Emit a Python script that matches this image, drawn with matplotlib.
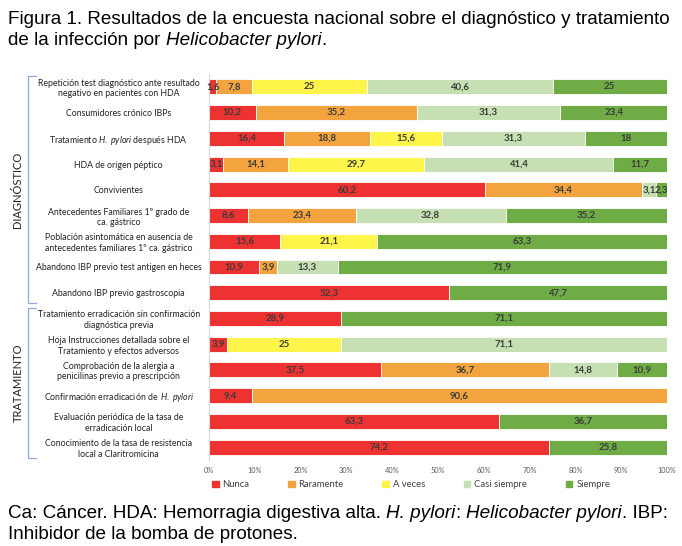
import matplotlib
matplotlib.use("Agg")
import matplotlib.pyplot as plt
import matplotlib.patches as mpatches
import numpy as np

categories = [
    "Repetición test diagnóstico ante resultado\nnegativo en pacientes con HDA",
    "Consumidores crónico IBPs",
    "Tratamiento $\\mathit{H.\\ pylori}$ después HDA",
    "HDA de origen péptico",
    "Convivientes",
    "Antecedentes Familiares 1º grado de\nca. gástrico",
    "Población asintomática en ausencia de\nantecedentes familiares 1º ca. gástrico",
    "Abandono IBP previo test antigen en heces",
    "Abandono IBP previo gastroscopia",
    "Tratamiento erradicación sin confirmación\ndiagnóstica previa",
    "Hoja Instrucciones detallada sobre el\nTratamiento y efectos adversos",
    "Comprobación de la alergia a\npenicilinas previo a prescripción",
    "Confirmación erradicación de $\\,\\mathit{H.\\ pylori}$",
    "Evaluación periódica de la tasa de\nerradicación local",
    "Conocimiento de la tasa de resistencia\nlocal a Claritromicina",
]
series_names = ["Nunca", "Raramente", "A veces", "Casi siempre", "Siempre"]
nunca = [1.6, 10.2, 16.4, 3.1, 60.2, 8.6, 15.6, 10.9, 52.3, 28.9, 3.9, 37.5, 9.4, 63.3, 74.2]
raramente = [7.8, 35.2, 18.8, 14.1, 34.4, 23.4, 0, 3.9, 0, 0, 0, 36.7, 90.6, 0, 0]
a_veces = [25, 0, 15.6, 29.7, 0, 0, 21.1, 0, 0, 0, 25, 0, 0, 0, 0]
casi_siempre = [40.6, 31.3, 31.3, 41.4, 3.1, 32.8, 0, 13.3, 0, 0, 71.1, 14.8, 0, 0, 0]
siempre = [25, 23.4, 18, 11.7, 2.3, 35.2, 63.3, 71.9, 47.7, 71.1, 0, 10.9, 0, 36.7, 25.8]
x_ticks = [0, 10, 20, 30, 40, 50, 60, 70, 80, 90, 100]
groups = [("DIAGNÓSTICO", 0, 8), ("TRATAMIENTO", 9, 14)]

colors = ["#EE3232", "#F4A43E", "#FFF44A", "#C6E0B4", "#6FAC46"]

title_font = "Liberation Sans"
label_font = "Lato"

plt.rcParams["mathtext.fontset"] = "custom"
plt.rcParams["mathtext.rm"] = label_font
plt.rcParams["mathtext.it"] = label_font + ":italic"

W, H = 682, 546
fig = plt.figure(figsize=(W / 100, H / 100), dpi=100)
ax = fig.add_axes([209 / W, 1 - 460 / H, (667 - 209) / W, (460 - 74) / H])

data = [nunca, raramente, a_veces, casi_siempre, siempre]
y = np.arange(len(categories))
left = np.zeros(len(categories))
for vals, col in zip(data, colors):
    vals = np.array(vals, dtype=float)
    ax.barh(y, vals, left=left, height=0.58, color=col, edgecolor="white", linewidth=0.6)
    for yi, (l, v) in enumerate(zip(left, vals)):
        if v > 0:
            txt = f"{v:g}".replace(".", ",")
            ax.text(l + v / 2, yi, txt, ha="center", va="center", fontsize=6.9,
                    fontweight="bold", color="#3A3A3A", family=label_font)
    left += vals

ax.set_xlim(0, 100)
ax.set_ylim(len(categories) - 0.5, -0.5)
ax.set_yticks(y)
ax.set_yticklabels(categories, ha="center", fontsize=6.3, family=label_font, color="#222222")
ax.tick_params(axis="y", length=0, pad=65)
ax.set_xticks(x_ticks)
ax.set_xticklabels([f"{t}%" for t in x_ticks], fontsize=5.3, color="#595959", family=label_font)
ax.tick_params(axis="x", length=0, pad=5)
for s in ["top", "right", "bottom"]:
    ax.spines[s].set_visible(False)
ax.spines["left"].set_color("#D9D9D9")
ax.spines["left"].set_linewidth(0.8)


def fy(px):
    return 1 - px / H


for name, i0, i1 in groups:
    top_px = ax.transData.transform((0, i0 - 0.5))[1]
    bot_px = ax.transData.transform((0, i1 + 0.5))[1]
    top_f = top_px / H - 0.004
    bot_f = bot_px / H + 0.004
    xv = 28 / W
    xe = 36 / W
    fig.add_artist(plt.Line2D([xe, xv, xv, xe], [top_f, top_f, bot_f, bot_f],
                              color="#8FAADC", linewidth=0.9))
    fig.text(18 / W, (top_f + bot_f) / 2, name, rotation=90, ha="center", va="center",
             fontsize=8, family=label_font, color="#222222")

handles = [mpatches.Patch(color=c, label=n) for c, n in zip(colors, series_names)]
fig.legend(handles=handles, loc="center", bbox_to_anchor=(411 / W, fy(485)), ncol=5,
           frameon=False, handlelength=0.7, handleheight=0.7,
           handletextpad=0.4, columnspacing=4.1, prop={"family": label_font, "size": 6.8},
           labelcolor="#404040")

renderer = fig.canvas.get_renderer()


def runs(x_px, y_px, parts, size):
    x = x_px
    for text, style in parts:
        t = fig.text(x / W, fy(y_px), text, fontsize=size, family=title_font,
                     style=style, va="baseline", ha="left", color="#000000")
        bb = t.get_window_extent(renderer)
        x += bb.width


title_size = 13.6
runs(8, 24, [("Figura 1. Resultados de la encuesta nacional sobre el diagnóstico y tratamiento", "normal")], title_size)
runs(8, 45, [("de la infección por ", "normal"), ("Helicobacter pylori", "italic"), (".", "normal")], title_size)
runs(8, 518, [("Ca: Cáncer. HDA: Hemorragia digestiva alta. ", "normal"), ("H. pylori", "italic"),
              (": ", "normal"), ("Helicobacter pylori", "italic"), (". IBP:", "normal")], title_size)
runs(8, 539, [("Inhibidor de la bomba de protones.", "normal")], title_size)

fig.savefig("out.png", dpi=100)
